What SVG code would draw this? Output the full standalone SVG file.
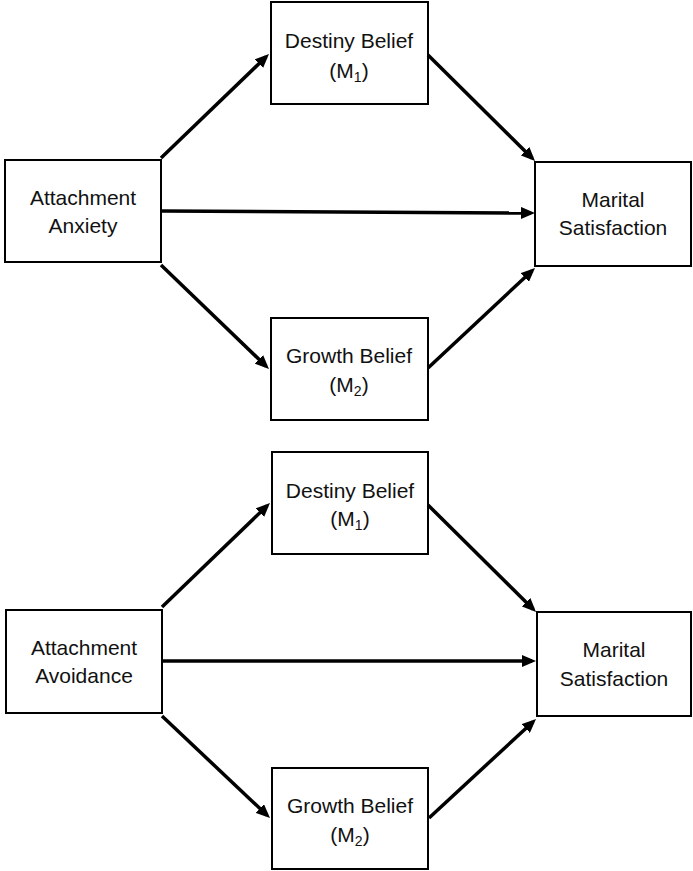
<svg xmlns="http://www.w3.org/2000/svg" width="693" height="871" viewBox="0 0 693 871">
<style>
.box{fill:#fff;stroke:#000;stroke-width:2}
.lbl{font-family:"Liberation Sans",Arial,sans-serif;font-size:21px;fill:#111;text-anchor:middle}
.sub{font-size:14px}
.edge{stroke:#000;stroke-width:3.5;fill:none;marker-end:url(#arr)}
</style>
<defs>
<marker id="arr" viewBox="0 0 14 12" refX="10" refY="6" markerWidth="14" markerHeight="12" markerUnits="userSpaceOnUse" orient="auto">
<path d="M0,0 L14,6 L0,12 z" fill="#000"/>
</marker>
</defs>
<rect width="693" height="871" fill="#fff"/>
<g id="anxiety">
<rect class="box" x="5" y="160" width="156" height="102"/>
<text class="lbl" x="83" y="205">Attachment</text>
<text class="lbl" x="83" y="233">Anxiety</text>
</g>
<g id="destiny1">
<rect class="box" x="271" y="2" width="157" height="102"/>
<text class="lbl" x="349" y="48">Destiny Belief</text>
<text class="lbl" x="349" y="78">(M<tspan class="sub" dy="4">1</tspan><tspan dy="-4">)</tspan></text>
</g>
<g id="growth1">
<rect class="box" x="271" y="318" width="157" height="102"/>
<text class="lbl" x="349" y="363">Growth Belief</text>
<text class="lbl" x="349" y="392">(M<tspan class="sub" dy="4">2</tspan><tspan dy="-4">)</tspan></text>
</g>
<g id="marital1">
<rect class="box" x="535" y="162" width="156" height="104"/>
<text class="lbl" x="613" y="207">Marital</text>
<text class="lbl" x="613" y="235">Satisfaction</text>
</g>
<g id="avoidance">
<rect class="box" x="6" y="610" width="156" height="103"/>
<text class="lbl" x="84" y="655">Attachment</text>
<text class="lbl" x="84" y="683">Avoidance</text>
</g>
<g id="destiny2">
<rect class="box" x="272" y="452" width="156" height="102"/>
<text class="lbl" x="350" y="498">Destiny Belief</text>
<text class="lbl" x="350" y="526">(M<tspan class="sub" dy="4">1</tspan><tspan dy="-4">)</tspan></text>
</g>
<g id="growth2">
<rect class="box" x="272" y="768" width="156" height="101"/>
<text class="lbl" x="350" y="813">Growth Belief</text>
<text class="lbl" x="350" y="842">(M<tspan class="sub" dy="4">2</tspan><tspan dy="-4">)</tspan></text>
</g>
<g id="marital2">
<rect class="box" x="537" y="612" width="154" height="104"/>
<text class="lbl" x="614" y="657">Marital</text>
<text class="lbl" x="614" y="686">Satisfaction</text>
</g>
<g id="connectors">
<line class="edge" x1="161" y1="158" x2="266.1" y2="56.8"/>
<line class="edge" x1="428" y1="55" x2="532.2" y2="158.2"/>
<line class="edge" x1="161" y1="211" x2="531" y2="213"/>
<line class="edge" x1="161" y1="265" x2="266.1" y2="366.2"/>
<line class="edge" x1="428" y1="368" x2="532.1" y2="270.7"/>
<line class="edge" x1="162" y1="607" x2="267.1" y2="505.8"/>
<line class="edge" x1="428" y1="505" x2="533.2" y2="609.2"/>
<line class="edge" x1="162" y1="661" x2="532" y2="661"/>
<line class="edge" x1="162" y1="716" x2="267.1" y2="815.3"/>
<line class="edge" x1="429" y1="818" x2="533.1" y2="721.7"/>
</g>
</svg>
